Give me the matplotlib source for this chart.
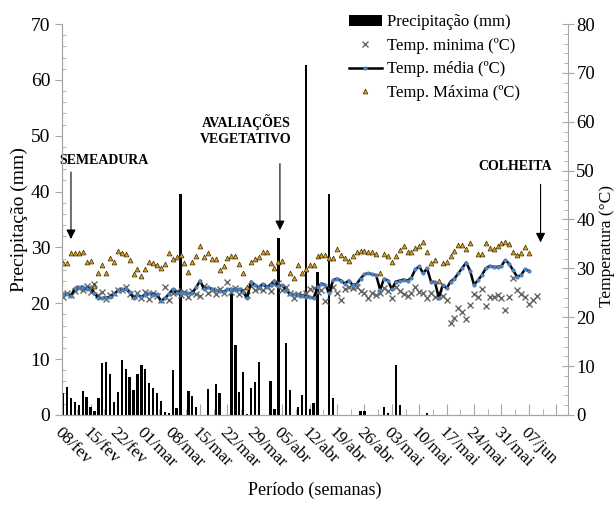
import numpy as np
import matplotlib
matplotlib.use("Agg")
import matplotlib.pyplot as plt

plt.rcParams['font.family'] = ['Liberation Serif', 'DejaVu Serif']

# semanas (rótulos do eixo x, um a cada 7 dias a partir de 08/fev)
week_labels = ['08/fev', '15/fev', '22/fev', '01/mar', '08/mar', '15/mar', '22/mar',
               '29/mar', '05/abr', '12/abr', '19/abr', '26/abr', '03/mai', '10/mai',
               '17/mai', '24/mai', '31/mai', '07/jun']

# precipitação diária (mm), dia 0 = 08/fev
precip = [4.0, 5.0, 3.0, 2.3, 1.8, 4.3, 3.3, 1.4, 0.8, 3.1,
          9.3, 9.5, 7.3, 2.3, 4.1, 9.9, 8.3, 6.8, 4.5, 7.3,
          8.9, 8.3, 5.8, 4.9, 3.9, 2.5, 0.6, 0.4, 8.0, 1.3,
          39.5, 0, 4.3, 3.4, 1.4, 0, 0, 4.7, 0, 5.5,
          4.0, 0, 0, 21.8, 12.5, 4.1, 7.7, 0.1, 4.9, 5.9,
          9.5, 0, 0, 6.1, 1.0, 31.7, 0, 12.9, 4.5, 0,
          1.5, 3.6, 62.7, 1.0, 2.2, 25.6, 0, 0, 39.5, 3.1,
          0, 0, 0, 0, 0, 0, 0.8, 0.8, 0, 0,
          0, 0, 1.4, 0.3, 0, 8.9, 1.7, 0, 0, 0,
          0, 0, 0, 0.3]

# temperatura máxima (ºC), dias 0..119
t_max = [31.0, 31.0, 33.1, 33.2, 33.2, 33.3, 31.4, 31.5, 26.4, 29.1,
         30.7, 29.0, 32.2, 31.3, 33.6, 33.1, 33.0, 31.7, 28.8, 29.9,
         28.5, 29.9, 31.3, 31.2, 30.6, 30.1, 30.8, 33.1, 32.0, 32.4,
         32.8, 31.0, 29.3, 31.4, 32.5, 34.6, 32.4, 33.2, 32.0, 32.0,
         29.7, 30.4, 32.1, 32.6, 32.5, 30.8, 29.1, 26.1, 31.3, 32.0,
         32.3, 33.3, 33.3, 31.0, 30.1, 31.3, 31.5, np.nan, 29.1, 28.1,
         30.6, 29.1, 29.8, 30.7, 30.7, 32.5, 32.7, 32.7, 32.2, 32.2,
         33.9, 32.8, 32.2, 31.5, 32.5, 33.3, 33.5, 33.5, 33.3, 33.3,
         32.9, 29.0, 33.0, 32.5, 31.3, 32.5, 33.7, 34.6, 33.3, 33.4,
         34.1, 34.6, 35.3, 33.3, 31.0, 31.8, 27.5, 31.2, 31.3, 32.5,
         33.5, 34.7, 34.8, 33.9, 35.1, np.nan, 32.9, 32.9, 35.1, 34.2,
         34.0, 34.6, 35.1, 35.4, 35.0, 33.4, 32.8, 33.1, 34.3, 33.2]

# temperatura média (ºC), dias 0..119
t_med = [24.7, 24.7, 24.4, 25.9, 26.1, 26.2, 25.7, 26.1, 24.9, 23.9,
         23.9, 24.0, 24.2, 24.7, 25.5, 25.7, 25.7, 25.2, 23.9, 24.5,
         24.2, 24.5, 24.9, 24.6, 24.7, 23.3, 23.9, 24.7, 25.7, 25.0,
         25.2, 25.0, 24.9, 25.0, 26.1, 27.5, 25.7, 26.1, 25.8, 25.5,
         25.4, 25.2, 25.7, 25.8, 25.5, 25.7, 25.2, 23.9, 27.3, 26.6,
         26.1, 26.8, 26.1, 26.6, 27.5, 26.4, 26.5, 25.5, 24.7, 24.7,
         24.5, 24.4, 24.2, 24.1, 23.9, 26.1, 26.9, 26.6, 24.9, 27.6,
         27.9, 27.5, 26.9, 27.5, 26.6, 26.8, 27.9, 28.8, 29.0, 28.8,
         28.6, 25.6, 27.9, 27.5, 25.7, 27.3, 27.5, 27.7, 27.5, 28.1,
         29.8, 30.4, 29.0, 30.0, 27.3, 27.2, 24.0, 26.6, 25.9, 27.3,
         27.9, 29.0, 30.1, 31.2, 29.5, 26.6, 27.6, 28.6, 30.0, 30.5,
         30.3, 30.3, 30.5, 31.7, 30.9, 29.6, 28.3, 28.6, 29.8, 29.5]

# temperatura mínima (ºC), dias 0..121
t_min = [24.2, 24.9, 24.5, 25.3, 26.0, 25.6, 26.3, 25.2, 26.7, 24.5,
         25.2, 23.8, 24.5, 25.0, 25.6, 25.6, 26.2, 24.8, 24.3, 25.0,
         24.0, 25.2, 23.8, 25.0, 24.3, 23.6, 26.2, 23.6, 25.0, 25.4,
         24.6, 25.2, 24.2, 25.3, 24.8, 24.3, 26.4, 25.0, 25.5, 24.7,
         25.8, 24.9, 27.2, 25.2, 26.0, 24.8, 25.6, 24.6, 26.4, 25.5,
         26.0, 25.6, 26.3, 25.4, 26.8, 27.0, 25.6, 26.1, 25.0, 24.0,
         24.8, 24.5, 25.0, 25.7, 25.9, 25.2, 25.6, 23.4, 25.7, 26.1,
         25.0, 23.6, 25.7, 26.1, 25.9, 26.1, 25.4, 25.0, 23.9, 24.9,
         24.6, 25.0, 25.9, 25.4, 23.9, 26.1, 25.4, 24.8, 24.3, 25.0,
         26.1, 25.2, 25.0, 23.9, 24.9, 24.2, 25.0, 24.4, 23.5, 18.9,
         19.9, 21.8, 21.1, 19.6, 22.5, 24.7, 24.1, 25.7, 22.2, 24.1,
         24.2, 24.5, 23.9, 21.5, 24.1, 28.1, 25.6, 24.7, 24.1, 22.7,
         23.5, 24.3]

days_p = np.arange(len(precip))
days_max = np.arange(len(t_max))
days_med = np.arange(len(t_med))
days_min = np.arange(len(t_min))

grey = '#a6a6a6'

fig = plt.figure(figsize=(6.16, 5.12), dpi=100)
ax = fig.add_axes([0.1006, 0.1895, 0.8214, 0.7636])
ax2 = ax.twinx()

bars = ax.bar(days_p, precip, width=0.6, color='black', label='Precipitação (mm)', zorder=3)

l_min, = ax2.plot(days_min, t_min, linestyle='none', marker='x', ms=4.5, mew=1.0,
                  color='#666666', label='Temp. minima (ºC)')
l_med, = ax2.plot(days_med, t_med, color='black', lw=1.8, marker='o', ms=2.0,
                  mfc='#4f81bd', mec='#4f81bd', label='Temp. média (ºC)')
l_max, = ax2.plot(days_max, t_max, linestyle='none', marker='^', ms=3.5, mfc='#d9a21b',
                  mec='#3b2c05', mew=0.5, label='Temp. Máxima (ºC)')

ax.set_xlim(-0.3, 129)
ax.set_ylim(0, 70)
ax2.set_ylim(0, 80)

ax.set_xticks(np.arange(0, 127, 7))
ax.set_xticklabels(week_labels + [''], rotation=-45, ha='left', va='top',
                   rotation_mode='anchor', fontsize=12.5)
ax.set_xticks(np.arange(3.5, 129, 7), minor=True)
ax.tick_params(axis='x', which='major', direction='in', length=8, color=grey, pad=7)
ax.tick_params(axis='x', which='minor', direction='in', length=4, color=grey)

ax.set_yticks(np.arange(0, 71, 10))
ax.set_yticks(np.arange(0, 71, 2), minor=True)
ax.tick_params(axis='y', which='major', direction='out', length=5, color=grey, labelsize=14)
ax.tick_params(axis='y', which='minor', direction='in', length=3, color=grey)
ax2.set_yticks(np.arange(0, 81, 10))
ax2.set_yticks(np.arange(0, 81, 2), minor=True)
ax2.tick_params(axis='y', which='major', direction='inout', length=8, color=grey,
                labelsize=13.5, pad=2)
ax2.tick_params(axis='y', which='minor', direction='in', length=3, color=grey)

for a in (ax, ax2):
    a.spines['top'].set_visible(False)
    for s in ('left', 'right', 'bottom'):
        a.spines[s].set_color(grey)
ax.spines['right'].set_visible(False)

ax.set_ylabel('Precipitação (mm)', fontsize=14, labelpad=2)
ax.set_xlabel('Período (semanas)', fontsize=13, labelpad=8)
fig.text(0.986, 0.52, 'Temperatura (°C)', rotation=90, ha='center', va='center', fontsize=12.5)

# anotações
arrow = dict(arrowstyle='-|>', color='black', lw=0.8, mutation_scale=14)
ax.annotate('', xy=(2, 31), xytext=(2, 44), arrowprops=arrow)
ax.text(10.3, 45.6, 'SEMEADURA', ha='center', va='center', fontsize=10, fontweight='bold')
ax.annotate('', xy=(55.4, 32.6), xytext=(55.4, 45.5), arrowprops=arrow)
ax.text(46.7, 51.0, 'AVALIAÇÕES\nVEGETATIVO', ha='center', va='center', fontsize=10,
        fontweight='bold', linespacing=1.3)
ax.annotate('', xy=(122, 30.4), xytext=(122, 41.8), arrowprops=arrow)
ax.text(115.5, 44.5, 'COLHEITA', ha='center', va='center', fontsize=10, fontweight='bold')

fig.legend(handles=[bars, l_min, l_med, l_max], loc='upper left',
           bbox_to_anchor=(0.555, 0.985), frameon=False, fontsize=12,
           handlelength=2.0, handletextpad=0.3, labelspacing=0.45, borderaxespad=0)

fig.savefig('out.png', dpi=100)
